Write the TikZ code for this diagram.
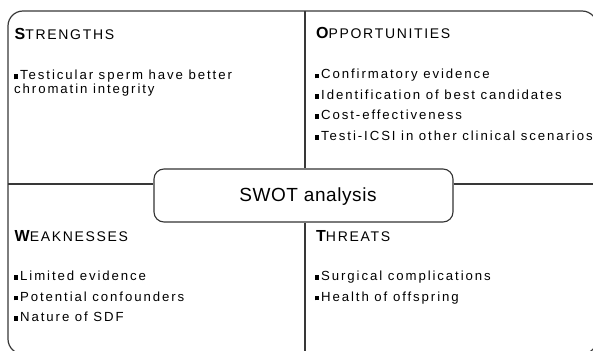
\documentclass[tikz,border=0pt]{standalone}
\usepackage{fontspec}
\setmainfont{Liberation Sans}
\newfontfamily\bodyf[LetterSpace=14.5]{Liberation Sans}
\newfontfamily\capf[LetterSpace=12]{Liberation Sans}
\newfontfamily\bigf[LetterSpace=4]{Liberation Sans}
\newfontfamily\boxf[LetterSpace=3]{Liberation Sans}
\newcommand\swttl[2]{{\fontsize{16}{16}\selectfont\bigf\bfseries #1}{\fontsize{14}{16}\selectfont\capf #2}}
\newcommand\sqb{\rule[0.7pt]{4.2pt}{4.8pt}\hspace{1.8pt}}
\tikzset{
  frame/.style={draw=black!78, line width=1.2pt},
  ttl/.style={anchor=base west, inner sep=0pt},
  txt/.style={anchor=base west, inner sep=0pt, font=\fontsize{13.2}{15}\selectfont\bodyf},
  swotbox/.style={draw=black!80, line width=1.1pt, rounded corners=10pt, fill=white,
    minimum width=299pt, minimum height=53pt, inner sep=0pt},
}
\begin{document}
\begin{tikzpicture}[x=1pt,y=-1pt]
\useasboundingbox (0,0) rectangle (593,350);
\clip (0,0) rectangle (593,350);
% outer frame
\draw[frame, rounded corners=15pt] (8,11) rectangle (597,354);
% centre box
\node[swotbox] (swot) at (303.5,195.5) {};
\node[anchor=base, inner sep=0pt, font=\fontsize{19}{20}\selectfont\boxf] (swotlabel) at (308,201.7) {SWOT analysis};
% cross lines
\coordinate (hl) at (8,184);
\coordinate (hr) at (597,184);
\coordinate (vt) at (305,11);
\coordinate (vb) at (305,354);
\draw[frame] (hl) -- (hl -| swot.west);
\draw[frame] (swot.east |- hr) -- (hr);
\draw[frame] (vt) -- (vt |- swot.north);
\draw[frame] (vb |- swot.south) -- (vb);
% Strengths
\node[ttl] (st) at (14.5,39.3) {\swttl{S}{TRENGTHS}};
\node[txt] (s1) at (14,80) {\sqb Testicular sperm have better};
\node[txt] (s2) at (14,94) {chromatin integrity};
% Opportunities
\node[ttl] (ot) at (316,38.8) {\swttl{O}{PPORTUNITIES}};
\node[txt] (o1) at (315,79) {\sqb Confirmatory evidence};
\node[txt] (o2) at (315,99.3) {\sqb Identification of best candidates};
\node[txt] (o3) at (315,119.8) {\sqb Cost-effectiveness};
\node[txt] (o4) at (315,140.3) {\sqb Testi-ICSI in other clinical scenarios};
% Weaknesses
\node[ttl] (wt) at (14.5,241.5) {\swttl{W}{EAKNESSES}};
\node[txt] (w1) at (14,280.5) {\sqb Limited evidence};
\node[txt] (w2) at (14,301) {\sqb Potential confounders};
\node[txt] (w3) at (14,321.5) {\sqb Nature of SDF};
% Threats
\node[ttl] (tt) at (316,241.5) {\swttl{T}{HREATS}};
\node[txt] (t1) at (315,280.5) {\sqb Surgical complications};
\node[txt] (t2) at (315,301) {\sqb Health of offspring};
\end{tikzpicture}
\end{document}
